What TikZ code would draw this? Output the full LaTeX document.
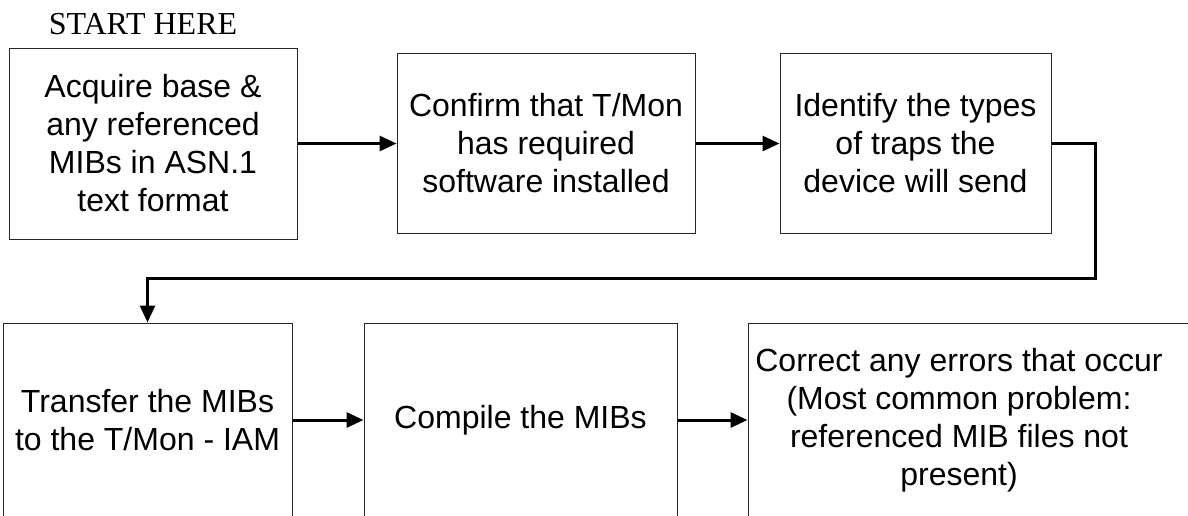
\documentclass[tikz,border=0pt]{standalone}
\usepackage{fontspec}
\setmainfont{Liberation Serif}
\newfontfamily\arialfont{Liberation Sans}
\usetikzlibrary{positioning}
\usetikzlibrary{arrows.meta}

\begin{document}
\begin{tikzpicture}[
x=0.5pt, y=-0.5pt,
box/.style={rectangle, draw=black!85, line width=0.5pt, align=center, inner sep=0pt, font=\arialfont\fontsize{16}{19}\selectfont},
link/.style={line width=1.5pt, -{Triangle[length=8.5pt,width=7.5pt]}},
]
\useasboundingbox (0,0) rectangle (1188,515);
\clip (0,0) rectangle (1188,515);

\node[font=\fontsize{16}{19}\selectfont] (start) at (143,24) {START HERE};

\node[box, minimum width=144pt, minimum height=95.5pt] (acquire) at (153,143.5) {Acquire base \&\\any referenced\\MIBs in ASN.1\\text format};
\node[box, minimum width=149pt, minimum height=90pt] (confirm) [right=49.5pt of acquire] {Confirm that T/Mon\\has required\\software installed};
\node[box, minimum width=135.5pt, minimum height=90pt] (ident) [right=42pt of confirm] {Identify the types\\of traps the\\device will send};

\node[box, minimum width=144.5pt, minimum height=97pt] (transfer) at (147.5,420) {Transfer the MIBs\\to the T/Mon - IAM};
\node[box, minimum width=156.5pt, minimum height=97pt] (compile) [right=35.5pt of transfer] {Compile the MIBs};
% box runs past the right edge, text sits left of its centre
\node[box, minimum width=230pt, minimum height=97pt] (correct) [right=35pt of compile] {\hspace*{-19pt}Correct any errors that occur\\\hspace*{-19pt}(Most common problem:\\\hspace*{-19pt}referenced MIB files not\\\hspace*{-19pt}present)};

\coordinate (turn) at (1095,278);

\draw[link] (acquire.east) -- (confirm.west);
\draw[link] (confirm.east) -- (ident.west);
\draw[link] (ident.east) -| (turn) -| (transfer.north);
\draw[link] (transfer.east) -- (compile.west);
\draw[link] (compile.east) -- (correct.west);
\end{tikzpicture}
\end{document}
